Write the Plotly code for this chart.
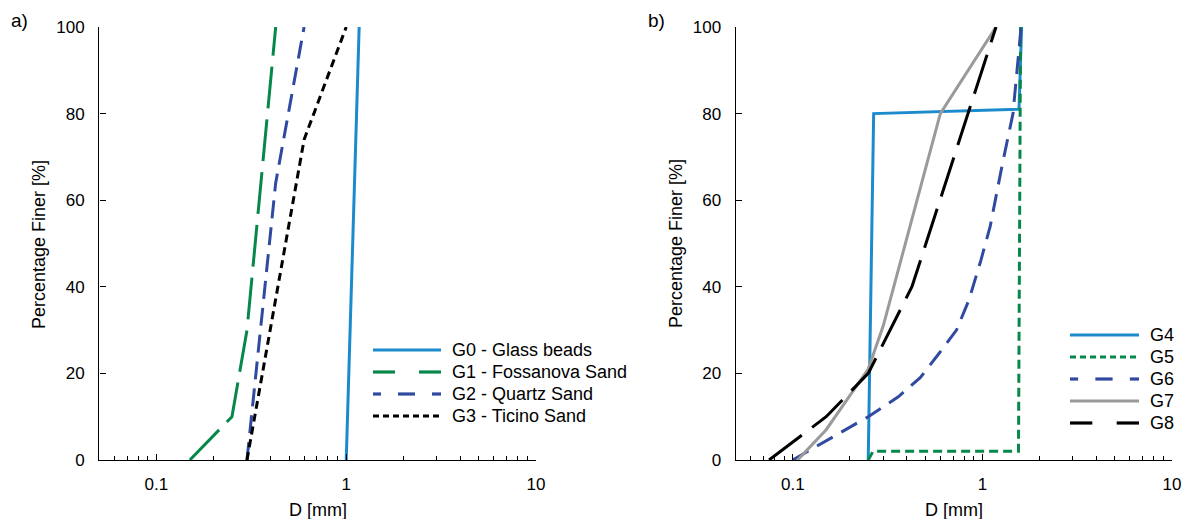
import numpy as np
import plotly.graph_objects as go

# ---- Panel a): grain size distributions of the test materials ----
g0_d = [1.0, 1.17]
g0_p = [0, 100]
g1_d = [0.15, 0.25, 0.30, 0.425]
g1_p = [0, 10, 30, 100]
g2_d = [0.30, 0.425, 0.60]
g2_p = [0, 64, 100]
g3_d = [0.30, 0.60, 1.0]
g3_p = [0, 74, 100]

# ---- Panel b): grain size distributions of the mixtures ----
g4_d = [0.25, 0.267, 1.56, 1.61]
g4_p = [0, 80, 81, 100]
g5_d = [0.25, 0.265, 1.55, 1.59]
g5_p = [0, 2, 2, 100]
g6_d = [0.10, 0.25, 0.36, 0.47, 0.60, 0.73, 0.85, 0.98, 1.10, 1.27, 1.45, 1.60]
g6_p = [0, 10, 14.6, 19, 25, 30, 37, 46, 54, 68, 80, 100]
g7_d = [0.106, 0.15, 0.18, 0.25, 0.30, 0.60, 1.18]
g7_p = [0, 7, 12, 21, 31, 80, 100]
g8_d = [0.075, 0.15, 0.25, 0.425, 1.18]
g8_p = [0, 10, 20, 40, 100]

names_a = ["G0 - Glass beads", "G1 - Fossanova Sand", "G2 - Quartz Sand", "G3 - Ticino Sand"]
names_b = ["G4", "G5", "G6", "G7", "G8"]

y_ticks = [0, 20, 40, 60, 80, 100]
x_major = [0.1, 1, 10]
x_major_text = ["0.1", "1", "10"]
x_minor = [0.06, 0.07, 0.08, 0.09, 0.2, 0.3, 0.4, 0.5, 0.6, 0.7, 0.8, 0.9,
           2, 3, 4, 5, 6, 7, 8, 9]

FONT = "Liberation Sans, Arial, sans-serif"
W, H = 1184, 519

BLUE = "#1b8bcb"
GREEN = "#06884a"
NAVY = "#2f4aa0"
BLACK = "#000000"
GREY = "#9a9a9a"

# line styles: (colour, plot dash, legend segments as fractions of sample length, legend dash)
LONG = [(0, 22 / 68), (46 / 68, 1)]
MED = [(0, 8 / 68), (25 / 68, 42 / 68), (59 / 68, 1)]
SOLID = [(0, 1)]

series_a = [
    (g0_d, g0_p, BLUE, "solid", SOLID, "solid"),
    (g1_d, g1_p, GREEN, "42px,11px", LONG, "solid"),
    (g2_d, g2_p, NAVY, "18px,9px", MED, "solid"),
    (g3_d, g3_p, BLACK, "8px,5px", SOLID, "6px,4px"),
]
series_b = [
    (g4_d, g4_p, BLUE, "solid", SOLID, "solid"),
    (g5_d, g5_p, GREEN, "9px,5px", SOLID, "6px,4px"),
    (g6_d, g6_p, NAVY, "18px,10px", MED, "solid"),
    (g7_d, g7_p, GREY, "solid", SOLID, "solid"),
    (g8_d, g8_p, BLACK, "41px,13px", LONG, "solid"),
]


def fx(x):
    return x / W


def fy(y):
    return 1 - y / H


fig = go.Figure()

for (d, p, col, dash, _, _), name in zip(series_a, names_a):
    fig.add_trace(go.Scatter(x=d, y=p, mode="lines", name=name, xaxis="x", yaxis="y",
                             line=dict(color=col, width=3, dash=dash), showlegend=False))
for (d, p, col, dash, _, _), name in zip(series_b, names_b):
    fig.add_trace(go.Scatter(x=d, y=p, mode="lines", name=name, xaxis="x2", yaxis="y2",
                             line=dict(color=col, width=3, dash=dash), showlegend=False))

shapes = []
annotations = []


def legend(series, names, x0, x1, tx, rows):
    for (_, _, col, _, segs, ldash), name, ry in zip(series, names, rows):
        for a, b in segs:
            shapes.append(dict(type="line", xref="paper", yref="paper",
                               x0=fx(x0 + a * (x1 - x0)), x1=fx(x0 + b * (x1 - x0)),
                               y0=fy(ry), y1=fy(ry),
                               line=dict(color=col, width=3.2, dash=ldash)))
        annotations.append(dict(text=name, xref="paper", yref="paper", x=fx(tx), y=fy(ry),
                                xanchor="left", yanchor="middle", showarrow=False,
                                font=dict(family=FONT, size=18, color="black")))


legend(series_a, names_a, 373, 441, 450, [350, 372, 394, 416])
legend(series_b, names_b, 1070, 1139, 1148, [335, 357, 379, 401, 423])

for txt, x, y in [("a)", 19, 20), ("b)", 656, 20)]:
    annotations.append(dict(text=txt, xref="paper", yref="paper", x=fx(x), y=fy(y),
                            xanchor="center", yanchor="middle", showarrow=False,
                            font=dict(family=FONT, size=19, color="black")))
for x in [318, 954]:
    annotations.append(dict(text="D [mm]", xref="paper", yref="paper", x=fx(x), y=fy(510),
                            xanchor="center", yanchor="middle", showarrow=False,
                            font=dict(family=FONT, size=18, color="black")))
for x in [39, 676]:
    annotations.append(dict(text="Percentage Finer [%]", xref="paper", yref="paper",
                            x=fx(x), y=fy(244), textangle=-90,
                            xanchor="center", yanchor="middle", showarrow=False,
                            font=dict(family=FONT, size=18, color="black")))

tickfont = dict(family=FONT, size=17, color="black")


def xaxis(dom, anchor):
    return dict(type="log", range=[np.log10(0.05), 1], domain=dom, anchor=anchor,
                automargin=False,
                showgrid=False, zeroline=False, showline=True, linecolor="black",
                linewidth=1.4, ticks="inside", ticklen=6, tickwidth=1.3, tickcolor="black",
                tickmode="array", tickvals=x_major, ticktext=x_major_text,
                tickfont=tickfont, ticklabelstandoff=8,
                minor=dict(tickmode="array", tickvals=x_minor, ticks="inside",
                           ticklen=4, tickwidth=1.3, tickcolor="black", showgrid=False))


def yaxis(anchor):
    return dict(range=[0, 100], domain=[fy(460), fy(27)], anchor=anchor,
                automargin=False,
                showgrid=False, zeroline=False, showline=True, linecolor="black",
                linewidth=1.4, ticks="inside", ticklen=6, tickwidth=1.3, tickcolor="black",
                tickmode="array", tickvals=y_ticks, tickfont=tickfont,
                ticklabelstandoff=10)


fig.update_layout(
    width=W, height=H,
    margin=dict(l=0, r=0, t=0, b=0),
    paper_bgcolor="white", plot_bgcolor="white",
    showlegend=False,
    xaxis=xaxis([fx(99.3), fx(536)], "y"),
    yaxis=yaxis("x"),
    xaxis2=xaxis([fx(735.7), fx(1172)], "y2"),
    yaxis2=yaxis("x2"),
    shapes=shapes,
    annotations=annotations,
)

fig.write_html("out.html")
